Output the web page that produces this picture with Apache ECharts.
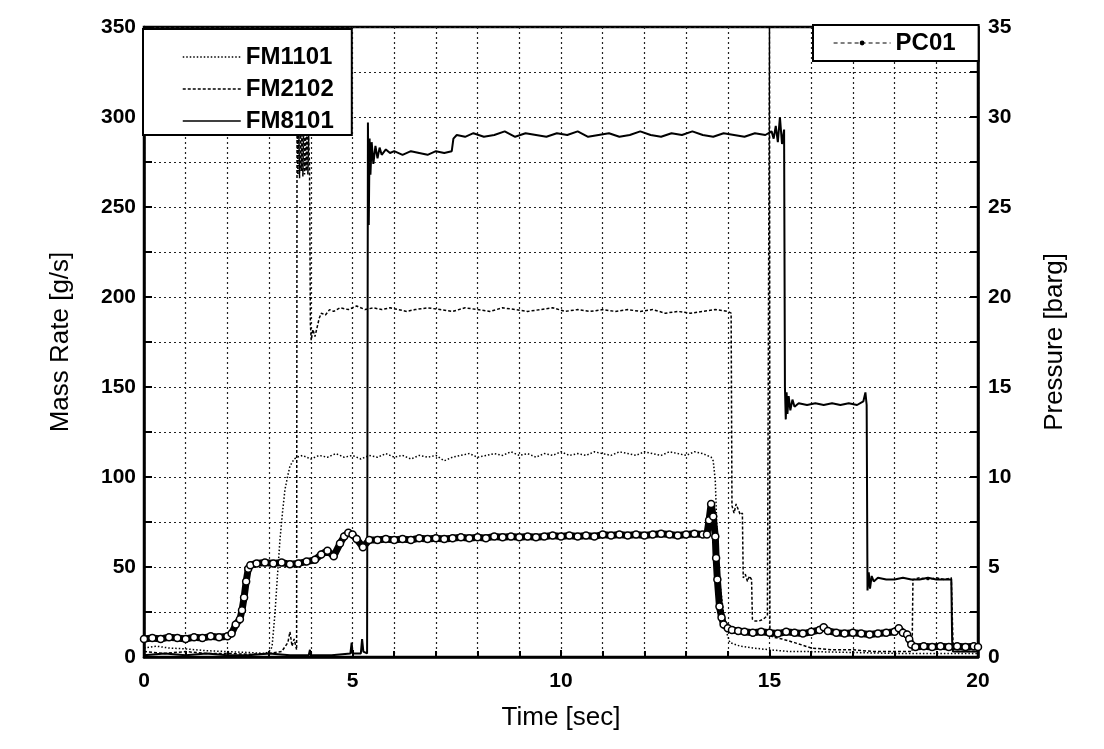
<!DOCTYPE html>
<html>
<head>
<meta charset="utf-8">
<script src="https://cdn.jsdelivr.net/npm/echarts@6/dist/echarts.min.js"></script>
<style>
html,body{margin:0;padding:0;background:#fff;}
#chart{width:1104px;height:749px;}
</style>
</head>
<body>
<div id="chart"></div>
<script>
// ---- data (time [s], value) ----
const seriesNames = ['FM1101', 'FM2102', 'FM8101', 'PC01'];

// FM1101 mass rate [g/s]
const fm1101 = [
[0,5],[0.3,6],[0.6,5],[1.0,4.5],[1.5,3.5],[2.0,3],[2.5,2.5],[2.9,2],[3.0,3],[3.07,5.5],[3.14,24],[3.2,45],[3.26,65],[3.32,80],[3.38,93],[3.45,101],[3.5,106],[3.6,110],[3.67,111],
[3.8,112],[4.0,110],[4.2,112],[4.4,111],[4.6,113],[4.8,111],[5.0,112],[5.2,110],[5.4,112],[5.6,111],[5.8,113],[6.0,111],[6.2,112],[6.4,110],[6.6,112],[6.8,111],[7.0,112],[7.2,109],[7.4,111],[7.6,112],[7.8,113],
[8.0,111],[8.2,112],[8.4,113],[8.6,112],[8.8,114],[9.0,112],[9.2,113],[9.4,111],[9.6,113],[9.8,112],[10.0,114],[10.2,112],[10.4,113],[10.6,112],[10.8,114],[11.0,113],[11.2,112],[11.4,114],[11.6,113],[11.8,112],
[12.0,114],[12.2,113],[12.4,112],[12.6,114],[12.8,113],[13.0,112],[13.2,114],[13.4,113],[13.6,111],[13.65,109],[13.7,98],[13.74,70],[13.8,43],[13.9,24],[13.98,13],[14.05,8],[14.3,6],[14.6,5],[15,4],[15.5,3],[16,3],[17,2.5],[18,2],[19,2],[20,2]
];

// FM2102 mass rate [g/s]
const fm2102 = [
[0,3],[0.5,2],[1,3],[1.5,2],[2,2],[2.5,1.5],[3.0,2],[3.3,3],[3.45,8],[3.5,14],[3.55,6],[3.6,10],[3.66,4],
[3.67,300],[3.69,268],[3.71,298],[3.73,266],[3.75,300],[3.77,270],[3.79,297],[3.81,267],[3.83,299],[3.85,268],[3.87,296],[3.89,270],[3.91,298],[3.93,268],[3.95,290],[3.97,272],
[3.99,185],[4.01,176],[4.05,182],[4.1,178],[4.15,183],[4.2,188],[4.25,191],[4.35,190],[4.45,193],[4.55,192],[4.7,194],[4.9,193],[5.1,195],[5.3,193],[5.5,194],[5.7,193],[5.9,194],[6.1,193],[6.3,192],[6.5,193],
[6.8,194],[7.1,193],[7.4,192],[7.7,194],[8.0,193],[8.3,192],[8.6,194],[8.9,193],[9.2,192],[9.5,193],[9.8,194],[10.1,192],[10.4,193],[10.7,192],[11.0,193],[11.3,192],[11.6,193],[11.9,192],[12.2,193],[12.5,191],[12.8,192],[13.1,191],[13.4,192],[13.7,193],[14.0,192],[14.08,191],
[14.1,84],[14.15,80],[14.2,85],[14.25,82],[14.3,79],[14.35,80],[14.37,44],[14.42,46],[14.47,42],[14.52,45],[14.57,43],[14.59,21],[14.65,20],[14.75,20],[14.85,21],[14.95,23],[14.99,22],
[15.0,355],[15.01,12],[15.1,11],[15.3,10],[15.6,8],[16,5],[16.5,4],[17,4],[17.5,3],[18.0,3],[18.42,3],[18.44,43],[18.6,44],[18.8,43],[19.0,44],[19.2,43],[19.36,44],[19.4,8],[19.5,3],[20,3]
];

// FM8101 mass rate [g/s]
const fm8101 = [
[0,1],[0.5,2],[1,1],[1.5,2],[2,1],[2.5,1],[3,2],[3.5,1],[3.95,1],[3.98,4],[4.0,1],[4.5,1],[4.95,2],[4.98,8],[5.0,2],[5.2,2],[5.23,10],[5.26,3],[5.35,2],
[5.37,297],[5.39,240],[5.41,288],[5.43,268],[5.46,286],[5.5,274],[5.55,284],[5.6,277],[5.65,283],[5.7,279],[5.8,282],[5.9,280],[6.0,281],[6.2,279],[6.4,281],[6.6,280],[6.8,279],[7.0,281],[7.2,280],[7.38,281],
[7.42,288],[7.5,290],[7.7,289],[7.9,291],[8.15,289],[8.4,290],[8.65,292],[8.9,289],[9.15,291],[9.4,290],[9.65,289],[9.9,291],[10.15,290],[10.4,292],[10.65,289],[10.9,290],[11.15,291],[11.4,289],[11.65,290],[11.9,292],
[12.15,290],[12.4,289],[12.65,291],[12.9,290],[13.15,292],[13.4,290],[13.65,289],[13.9,291],[14.15,290],[14.4,289],[14.65,291],[14.9,290],[15.05,292],[15.1,288],[15.15,295],[15.2,286],[15.25,300],[15.3,285],[15.35,293],
[15.37,150],[15.39,132],[15.41,147],[15.43,135],[15.46,145],[15.5,137],[15.55,143],[15.6,139],[15.7,141],[15.9,140],[16.1,141],[16.3,140],[16.5,141],[16.7,140],[16.9,141],[17.1,140],[17.25,142],[17.3,147],[17.33,140],
[17.35,37],[17.38,47],[17.41,38],[17.45,45],[17.5,42],[17.6,44],[17.8,43],[18.0,43],[18.2,44],[18.4,43],[18.6,43],[18.8,44],[19.0,43],[19.2,43],[19.36,43],[19.38,9],[19.4,3],[20,3]
];

// PC01 pressure [barg]
const pc01 = [
[0,1.0],[0.2,1.05],[0.4,1.0],[0.6,1.1],[0.8,1.05],[1.0,1.0],[1.2,1.1],[1.4,1.05],[1.6,1.15],[1.8,1.1],[2.0,1.15],[2.1,1.3],[2.2,1.8],[2.3,2.1],[2.35,2.6],[2.4,3.3],[2.45,4.2],[2.5,4.9],[2.55,5.1],
[2.7,5.2],[2.9,5.25],[3.1,5.2],[3.3,5.25],[3.5,5.15],[3.7,5.2],[3.9,5.3],[4.1,5.4],[4.25,5.7],[4.4,5.9],[4.55,5.6],[4.7,6.3],[4.8,6.7],[4.9,6.9],[5.0,6.8],[5.1,6.55],[5.25,6.1],[5.4,6.5],
[5.6,6.5],[5.8,6.55],[6.0,6.5],[6.2,6.55],[6.4,6.5],[6.6,6.6],[6.8,6.55],[7.0,6.6],[7.2,6.55],[7.4,6.6],[7.6,6.65],[7.8,6.6],[8.0,6.65],[8.2,6.6],[8.4,6.7],[8.6,6.65],[8.8,6.7],[9.0,6.65],[9.2,6.7],[9.4,6.65],[9.6,6.7],[9.8,6.75],
[10.0,6.7],[10.2,6.75],[10.4,6.7],[10.6,6.75],[10.8,6.7],[11.0,6.8],[11.2,6.75],[11.4,6.8],[11.6,6.75],[11.8,6.8],[12.0,6.75],[12.2,6.8],[12.4,6.85],[12.6,6.8],[12.8,6.75],[13.0,6.8],[13.2,6.85],[13.4,6.8],[13.5,6.8],
[13.55,7.6],[13.6,8.5],[13.65,7.8],[13.7,6.7],[13.72,5.5],[13.75,4.3],[13.8,2.8],[13.85,2.2],[13.9,1.8],[14.0,1.6],[14.1,1.5],[14.25,1.45],[14.4,1.4],[14.6,1.35],[14.8,1.4],[15.0,1.35],[15.2,1.3],[15.4,1.4],[15.6,1.35],[15.8,1.3],
[16.0,1.4],[16.2,1.5],[16.3,1.65],[16.4,1.45],[16.6,1.35],[16.8,1.3],[17.0,1.35],[17.2,1.3],[17.4,1.25],[17.6,1.3],[17.8,1.35],[18.0,1.4],[18.1,1.6],[18.2,1.35],[18.3,1.25],[18.35,1.0],[18.4,0.7],[18.5,0.55],
[18.7,0.6],[18.9,0.55],[19.1,0.6],[19.3,0.55],[19.5,0.6],[19.7,0.55],[19.9,0.6],[20,0.55]
];

const FONT = 'Liberation Sans, Arial, sans-serif';
const chart = echarts.init(document.getElementById('chart'), null, {renderer: 'canvas'});

const dotted = {color: '#222', width: 1.2, type: [2, 3]};
const noMark = {opacity: 0};

chart.setOption({
  animation: false,
  backgroundColor: '#fff',
  grid: {left: 144, right: 126, top: 27, bottom: 92, show: true, borderColor: '#000', borderWidth: 2.5, backgroundColor: 'transparent'},
  legend: [
    {
      left: 143, top: 29, orient: 'vertical',
      data: [
        {name: 'FM1101', itemStyle: noMark, lineStyle: {type: [1.5, 2], width: 1.5, color: '#000'}},
        {name: 'FM2102', itemStyle: noMark, lineStyle: {type: [3, 2], width: 1.5, color: '#000'}},
        {name: 'FM8101', itemStyle: noMark, lineStyle: {type: 'solid', width: 1.5, color: '#000'}}
      ],
      backgroundColor: '#fff', borderColor: '#000', borderWidth: 2,
      padding: [14, 18, 0, 39], itemGap: 4, itemWidth: 58, itemHeight: 8,
      textStyle: {fontFamily: FONT, fontSize: 24, fontWeight: 'bold', color: '#000', lineHeight: 28}
    },
    {
      left: 813, top: 25, orient: 'vertical',
      data: [{name: 'PC01', itemStyle: {color: '#000', borderColor: '#000', borderWidth: 0}, lineStyle: {type: [4, 3], width: 1.2, color: '#000'}}],
      backgroundColor: '#fff', borderColor: '#000', borderWidth: 2,
      padding: [4, 23, 4, 20], itemWidth: 57, itemHeight: 6,
      textStyle: {fontFamily: FONT, fontSize: 24, fontWeight: 'bold', color: '#000', lineHeight: 28}
    }
  ],
  xAxis: {
    type: 'value', min: 0, max: 20, interval: 5,
    name: 'Time [sec]', nameLocation: 'middle', nameGap: 48,
    nameTextStyle: {fontFamily: FONT, fontSize: 26, color: '#000'},
    axisLine: {show: true, lineStyle: {color: '#000', width: 2.5}},
    axisTick: {show: true, inside: true, length: 7, lineStyle: {color: '#000', width: 2}},
    minorTick: {show: true, splitNumber: 5, length: 6, lineStyle: {color: '#000', width: 2}},
    axisLabel: {fontFamily: FONT, fontSize: 21, fontWeight: 'bold', color: '#000', margin: 14},
    splitLine: {show: true, lineStyle: dotted},
    minorSplitLine: {show: true, lineStyle: dotted}
  },
  yAxis: [
    {
      type: 'value', min: 0, max: 350, interval: 50, position: 'left',
      name: 'Mass Rate [g/s]', nameLocation: 'middle', nameGap: 70, nameRotate: 90,
      nameTextStyle: {fontFamily: FONT, fontSize: 26, color: '#000'},
      axisLine: {show: true, lineStyle: {color: '#000', width: 2.5}},
      axisTick: {show: true, inside: true, length: 8, lineStyle: {color: '#000', width: 2}},
      minorTick: {show: true, splitNumber: 2, length: 8, lineStyle: {color: '#000', width: 2}},
      axisLabel: {fontFamily: FONT, fontSize: 21, fontWeight: 'bold', color: '#000', margin: 8},
      splitLine: {show: true, lineStyle: dotted},
      minorSplitLine: {show: true, lineStyle: dotted}
    },
    {
      type: 'value', min: 0, max: 35, interval: 5, position: 'right',
      name: 'Pressure [barg]', nameLocation: 'middle', nameGap: 64, nameRotate: 90,
      nameTextStyle: {fontFamily: FONT, fontSize: 26, color: '#000'},
      axisLine: {show: true, lineStyle: {color: '#000', width: 2.5}},
      axisTick: {show: true, inside: true, length: 8, lineStyle: {color: '#000', width: 2}},
      minorTick: {show: true, splitNumber: 2, length: 8, lineStyle: {color: '#000', width: 2}},
      axisLabel: {fontFamily: FONT, fontSize: 21, fontWeight: 'bold', color: '#000', margin: 10},
      splitLine: {show: false}
    }
  ],
  series: [
    {
      name: 'FM1101', type: 'line', yAxisIndex: 0, data: fm1101, symbol: 'none', showSymbol: false,
      lineStyle: {color: '#000', width: 1.5, type: [1.5, 2]}, itemStyle: {color: '#000'}, z: 3
    },
    {
      name: 'FM2102', type: 'line', yAxisIndex: 0, data: fm2102, symbol: 'none', showSymbol: false,
      lineStyle: {color: '#000', width: 1.5, type: [3, 2]}, itemStyle: {color: '#000'}, z: 3
    },
    {
      name: 'FM8101', type: 'line', yAxisIndex: 0, data: fm8101, symbol: 'none', showSymbol: false,
      lineStyle: {color: '#000', width: 2}, itemStyle: {color: '#000'}, z: 3
    },
    {
      name: 'PC01', type: 'line', yAxisIndex: 1, data: pc01,
      showSymbol: true, showAllSymbol: true, symbol: 'circle', symbolSize: 7,
      lineStyle: {color: '#000', width: 7},
      itemStyle: {color: '#fff', borderColor: '#000', borderWidth: 1.5}, z: 4
    }
  ]
});
</script>
</body>
</html>
